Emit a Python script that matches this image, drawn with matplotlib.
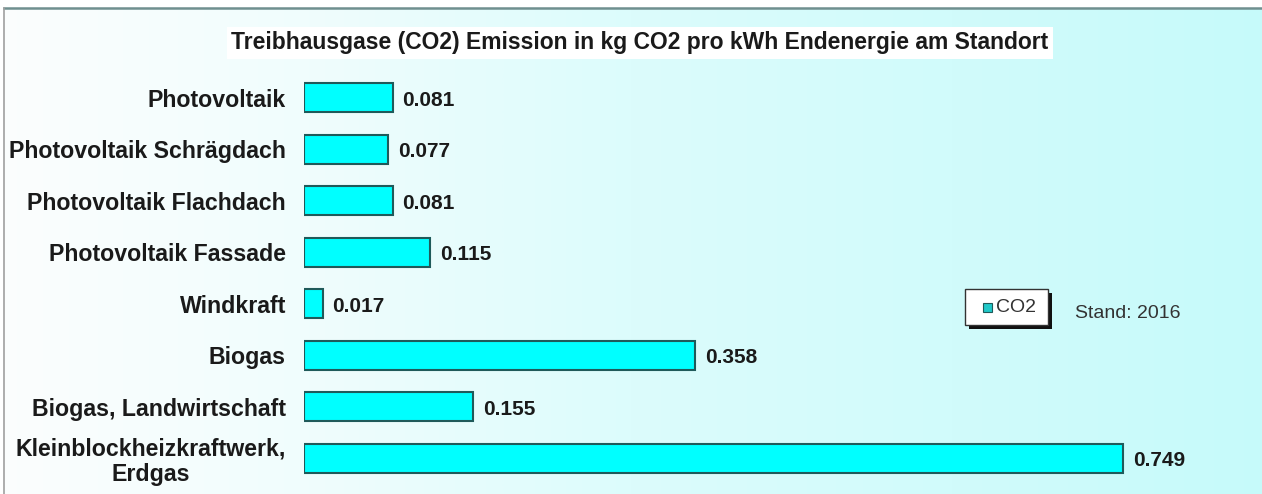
import matplotlib.pyplot as plt
import numpy as np
from matplotlib.colors import LinearSegmentedColormap
from matplotlib.patches import Rectangle

# --- Data ---
categories = [
    "Photovoltaik",
    "Photovoltaik Schrägdach",
    "Photovoltaik Flachdach",
    "Photovoltaik Fassade",
    "Windkraft",
    "Biogas",
    "Biogas, Landwirtschaft",
    "Kleinblockheizkraftwerk,\nErdgas",
]
co2_values = [0.081, 0.077, 0.081, 0.115, 0.017, 0.358, 0.155, 0.749]
value_labels = ["0.081", "0.077", "0.081", "0.115", "0.017", "0.358", "0.155", "0.749"]

plt.rcParams['font.family'] = ['Liberation Sans', 'DejaVu Sans']

W, H = 1262, 494
fig = plt.figure(figsize=(W / 100, H / 100), dpi=100)

# --- Background gradient (white -> light cyan) ---
bg = fig.add_axes([0, 0, 1, 1])
grad = np.linspace(0, 1, 512).reshape(1, -1)
cmap = LinearSegmentedColormap.from_list(
    "bg", [(0, "#fcfefe"), (0.25, "#f0fdfd"), (0.5, "#dcfcfc"), (1, "#c6fafa")])
bg.imshow(grad, aspect="auto", cmap=cmap, extent=[-0.01, 1.01, -0.01, 1.01])
bg.set_xlim(0, 1)
bg.set_ylim(0, 1)
bg.axis("off")
# white strip above top frame line, frame lines
bg.add_patch(Rectangle((0, 1 - 7 / H), 1, 7 / H, color="white", zorder=2))
bg.add_patch(Rectangle((0, 0), 3 / W, 1, color="white", zorder=2))
bg.add_patch(Rectangle((1 - 4 / W, 0), 5 / W, 1 - 9.5 / H, color="#c6fafa", lw=0, zorder=2))
bg.plot([4 / W, 1.01], [1 - 8.5 / H, 1 - 8.5 / H], color="#6f8f8f", lw=1.8, zorder=3)
bg.plot([4 / W, 4 / W], [0, 1 - 8 / H], color="#a0a0a0", lw=1.2, zorder=3)

# --- Main axes ---
left_px, right_px = 304, 1262
top_px, bottom_px = 72, 484
ax = fig.add_axes([left_px / W, 1 - bottom_px / H,
                   (right_px - left_px) / W, (bottom_px - top_px) / H])
ax.patch.set_alpha(0)
scale = 1093.0  # px per unit
ax.set_xlim(0, (right_px - left_px) / scale)
ax.set_ylim(len(categories) - 0.5, -0.5)

y = np.arange(len(categories))
ax.barh(y, co2_values, height=0.56, color="#00ffff", edgecolor="#1f5a5a", linewidth=1.5)

for yi, v, lab in zip(y, co2_values, value_labels):
    ax.text(v + 10 / scale, yi + 0.05, lab, va="center", ha="left",
            fontsize=15, fontweight="bold", color="#1a1a1a")

ax.set_yticks(y)
ax.set_yticklabels(categories, fontsize=16.7, fontweight="bold", ha="right",
                   linespacing=1.1, color="#1a1a1a")
for t in ax.get_yticklabels():
    t.set_multialignment("center")
ax.tick_params(axis="y", length=0, pad=13)
ax.set_xticks([])
for s in ax.spines.values():
    s.set_visible(False)

# --- Title ---
fig.text(640 / W, 1 - 43 / H,
         "Treibhausgase (CO2) Emission in kg CO2 pro kWh Endenergie am Standort",
         ha="center", va="center", fontsize=16.5, fontweight="bold", color="#1a1a1a",
         bbox=dict(facecolor="white", edgecolor="none", pad=3))

# --- Legend box with shadow ---
lx0, ly0, lx1, ly1 = 965, 289, 1048, 325
bg.add_patch(Rectangle(((lx0 + 4) / W, 1 - (ly1 + 4) / H), (lx1 - lx0) / W,
                       (ly1 - ly0) / H, facecolor="#111111", edgecolor="none", zorder=4))
bg.add_patch(Rectangle((lx0 / W, 1 - ly1 / H), (lx1 - lx0) / W, (ly1 - ly0) / H,
                       facecolor="white", edgecolor="#333333", lw=1, zorder=5))
bg.add_patch(Rectangle((983 / W, 1 - 312 / H), 9 / W, 9 / H,
                       facecolor="#20c8c8", edgecolor="#1f5a5a", lw=0.8, zorder=6))
bg.text(996 / W, 1 - 307 / H, "CO2", fontsize=14, va="center", ha="left",
        color="#333333", zorder=6)
bg.text(1075 / W, 1 - 313 / H, "Stand: 2016", fontsize=14, va="center", ha="left",
        color="#333333", zorder=6)

fig.savefig("out.png", dpi=100)
